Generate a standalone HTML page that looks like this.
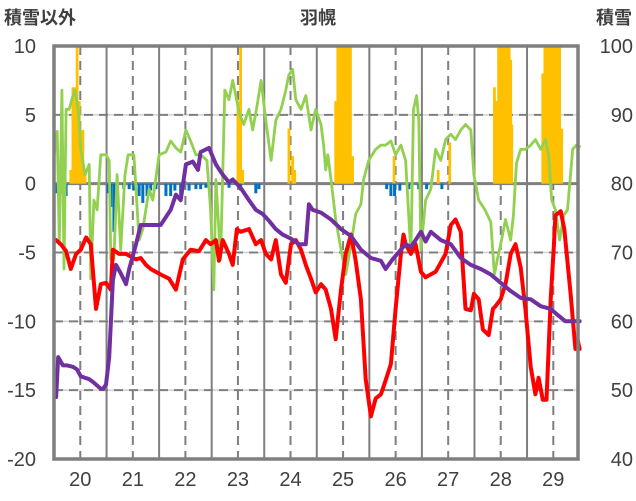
<!DOCTYPE html>
<html><head><meta charset="utf-8">
<style>
html,body{margin:0;padding:0;background:#fff;}
svg{display:block;font-family:"Liberation Sans","Noto Sans CJK JP",sans-serif;}
</style></head>
<body>
<svg id="chart" width="636" height="501" viewBox="0 0 636 501" xmlns="http://www.w3.org/2000/svg">
<text x="4" y="24" font-size="18" font-weight="bold" fill="#404040">積雪以外</text>
<text x="318" y="24" font-size="18" font-weight="bold" fill="#404040" text-anchor="middle">羽幌</text>
<text x="632" y="24" font-size="18" font-weight="bold" fill="#404040" text-anchor="end">積雪</text>
<g id="grid"></g>
<g id="bars"></g>
<g id="lines"></g>
<g id="axes"></g>
</svg>
<script>
const xTickLabels = [20,21,22,23,24,25,26,27,28,29];
const leftTickLabels = [10,5,0,-5,-10,-15,-20];
const rightTickLabels = [100,90,80,70,60,50,40];

const purpleDays = [19.54,19.58,19.67,19.75,19.86,19.94,20.01,20.17,20.24,20.39,20.43,20.49,20.55,20.62,20.68,20.77,20.87,20.93,21.06,21.15,21.53,21.72,21.82,21.91,22.01,22.14,22.24,22.29,22.45,22.58,22.71,22.83,22.90,23.05,23.21,23.34,23.47,23.59,23.72,23.85,24.01,24.16,24.29,24.35,24.42,24.58,24.77,24.96,25.15,25.34,25.53,25.72,25.81,25.94,26.10,26.19,26.29,26.38,26.48,26.57,26.67,26.86,27.05,27.24,27.43,27.62,27.81,28.00,28.19,28.38,28.57,28.76,28.95,29.04,29.23,29.50];
const purpleValues = [-15.5,-12.6,-13.2,-13.2,-13.3,-13.5,-14.0,-14.2,-14.4,-14.9,-14.9,-14.6,-12.6,-7.0,-5.9,-6.5,-7.3,-6.2,-4.4,-3.0,-3.0,-1.9,-0.8,-1.2,1.4,1.6,1.0,2.3,2.6,1.4,0.65,0.1,0.3,-0.3,-1.2,-1.9,-2.2,-2.7,-3.3,-3.7,-4.0,-4.4,-4.4,-1.5,-1.9,-2.1,-2.6,-3.3,-3.8,-4.8,-5.4,-5.6,-6.2,-5.5,-4.8,-4.4,-4.6,-4.1,-3.5,-4.2,-3.5,-4.1,-4.4,-5.4,-5.9,-6.2,-6.6,-7.2,-7.8,-8.3,-8.4,-8.9,-9.1,-9.4,-10.0,-10.0];

const redDays = [19.54,19.63,19.73,19.82,19.92,20.01,20.11,20.20,20.30,20.39,20.49,20.58,20.62,20.74,20.87,21.06,21.15,21.25,21.34,21.53,21.69,21.82,21.95,22.10,22.26,22.39,22.48,22.58,22.64,22.71,22.83,22.90,22.98,23.05,23.21,23.34,23.44,23.53,23.63,23.72,23.82,23.91,24.01,24.10,24.20,24.29,24.39,24.48,24.58,24.67,24.77,24.86,24.96,25.05,25.15,25.24,25.34,25.43,25.53,25.62,25.72,25.81,25.91,26.00,26.10,26.15,26.19,26.29,26.38,26.48,26.57,26.76,26.95,27.05,27.14,27.24,27.28,27.33,27.43,27.49,27.58,27.66,27.77,27.85,27.90,28.00,28.09,28.19,28.28,28.38,28.47,28.57,28.66,28.72,28.80,28.87,28.95,29.01,29.04,29.14,29.21,29.33,29.42,29.46,29.50];
const redValues = [-4.1,-4.4,-4.9,-6.2,-5.1,-4.8,-3.9,-4.4,-9.1,-7.3,-7.2,-7.7,-4.8,-5.1,-5.1,-5.5,-5.4,-5.9,-6.2,-6.6,-6.9,-7.7,-5.5,-4.8,-4.9,-4.1,-4.4,-4.1,-5.6,-4.1,-5.1,-5.9,-3.3,-3.5,-3.3,-4.4,-4.1,-5.1,-5.5,-4.1,-6.6,-7.2,-4.4,-4.1,-4.8,-5.9,-6.9,-7.9,-7.3,-7.7,-9.1,-11.3,-7.7,-5.1,-3.7,-5.6,-8.4,-14.2,-16.9,-15.6,-15.3,-14.3,-13.1,-9.1,-5.1,-3.7,-4.4,-5.1,-4.4,-6.4,-6.8,-6.4,-5.1,-3.0,-2.6,-3.5,-6.2,-9.1,-9.2,-8.0,-8.4,-10.6,-11.0,-9.1,-8.9,-8.4,-7.3,-5.1,-4.4,-6.1,-9.1,-13.3,-15.3,-14.1,-15.7,-15.7,-8.4,-4.6,-2.3,-2.0,-3.3,-8.0,-12.0,-11.3,-12.0];

const greenDays = [19.50,19.56,19.60,19.65,19.69,19.73,19.79,19.86,19.90,19.96,20.01,20.09,20.17,20.20,20.26,20.32,20.39,20.49,20.55,20.58,20.64,20.70,20.77,20.85,20.91,21.02,21.12,21.19,21.31,21.38,21.50,21.63,21.72,21.82,21.91,22.01,22.10,22.20,22.29,22.41,22.48,22.54,22.58,22.67,22.75,22.83,22.90,22.96,23.02,23.11,23.21,23.28,23.36,23.44,23.53,23.63,23.72,23.82,23.91,23.97,24.04,24.10,24.20,24.29,24.39,24.48,24.58,24.63,24.67,24.71,24.77,24.86,24.96,25.05,25.15,25.24,25.34,25.39,25.49,25.62,25.72,25.81,25.91,26.00,26.10,26.19,26.29,26.34,26.40,26.44,26.48,26.57,26.67,26.76,26.86,26.95,27.05,27.14,27.24,27.33,27.43,27.49,27.58,27.70,27.81,27.88,27.94,28.00,28.09,28.19,28.24,28.30,28.38,28.47,28.57,28.66,28.76,28.85,28.91,28.97,29.04,29.12,29.20,29.27,29.37,29.44,29.50];
const greenValues = [2.0,3.8,-4.4,6.8,-6.2,5.4,5.4,6.4,6.8,5.4,2.5,0.65,1.4,-6.9,-1.2,-1.9,2.1,2.1,1.7,-5.5,-5.5,0.65,-4.8,0.65,2.1,2.1,-4.1,-3.3,-0.4,-1.2,2.1,2.3,3.1,2.6,2.3,3.9,3.1,2.1,2.1,1.7,-1.9,-7.7,0.3,-5.5,6.8,6.1,7.5,6.4,5.2,4.3,5.4,3.9,5.6,7.5,4.6,1.7,4.6,5.4,6.8,7.9,8.3,6.1,5.4,6.4,3.9,5.4,4.3,2.8,1.0,2.1,0.3,-2.6,-4.8,-6.6,-4.4,-2.2,-1.5,0.3,1.7,2.5,2.8,2.8,3.1,2.1,2.8,1.7,-5.1,5.4,6.4,4.6,-4.8,-1.2,-0.4,2.5,1.7,3.2,3.6,3.2,3.9,4.3,3.9,0.65,-1.2,-1.9,-2.8,-6.6,-5.4,-4.4,-2.6,-4.1,-2.3,1.5,2.5,2.5,2.8,3.2,2.5,3.2,2.1,-1.2,-1.9,-4.1,-2.3,-1.9,2.5,2.8,2.7];

const snowfallDays = [19.82,19.86,19.90,19.94,19.98,20.01,20.05,20.09,23.00,23.05,23.09,23.97,24.04,24.08,24.86,24.90,24.94,24.98,25.02,25.06,25.10,25.14,25.18,25.97,26.81,27.03,27.88,27.92,27.96,28.00,28.04,28.08,28.12,28.16,28.19,28.21,28.80,28.84,28.88,28.92,28.96,29.00,29.04,29.08,29.12,29.16];
const snowfallValues = [1,7,7,10,6,3.9,3.9,1,6,10,1,4,2,1,6,10,10,10,10,10,10,10,2,2,1,3,7,6,10,10,10,10,10,10,9,4.3,8,10,10,10,10,10,10,10,10,4];

const meltDays = [19.54,19.63,19.73,20.53,20.58,20.64,20.70,20.83,20.93,21.02,21.12,21.19,21.27,21.34,21.44,21.63,21.72,21.80,21.91,22.07,22.20,22.29,22.39,22.58,22.83,23.05,23.34,23.40,25.83,25.91,25.98,26.08,26.25,26.44,26.59,26.88];
const meltValues = [-0.7,-0.7,-0.9,-0.7,-1.7,-3.5,-0.6,-0.4,-0.4,-0.5,-0.9,-1.4,-0.9,-0.5,-0.4,-0.9,-0.9,-0.5,-0.9,-0.5,-0.4,-0.4,-0.3,-0.3,-0.3,-0.5,-0.7,-0.4,-0.4,-0.9,-0.9,-0.5,-0.4,-0.4,-0.4,-0.4];

const NS = "http://www.w3.org/2000/svg";
const L = 54, R = 578, T = 46, B = 459;
const dMin = 19.5, dMax = 29.47;
function xScale(d){ return L + (d - dMin) / (dMax - dMin) * (R - L); }
function yScale(v){ return T + (10 - v) / 30 * (B - T); }
function mk(tag, attrs, parent){ const e = document.createElementNS(NS, tag); for (const k in attrs) e.setAttribute(k, attrs[k]); parent.appendChild(e); return e; }

const grid = document.getElementById('grid');
const bars = document.getElementById('bars');
const lines = document.getElementById('lines');
const axes = document.getElementById('axes');

leftTickLabels.forEach(v => {
  if (v === 10 || v === -20 || v === 0) return;
  const y = yScale(v);
  const l1 = mk('line', {x1:L, x2:R, y1:y, y2:y, stroke:'#d0d0d0', 'stroke-width':1.5}, grid);
  
  
  const l2 = mk('line', {x1:L, x2:R, y1:y, y2:y, stroke:'#7f7f7f', 'stroke-width':2, 'stroke-dasharray':'9,6'}, grid);
  
  
});
xTickLabels.forEach(d => {
  const x = xScale(d);
  const l = mk('line', {x1:x, x2:x, y1:T, y2:B, stroke:'#7f7f7f', 'stroke-width':2, 'stroke-dasharray':'9,6'}, grid);
  
  
  const xb = xScale(d + 0.5);
  if (xb < R - 2) {
    const s = mk('line', {x1:xb, x2:xb, y1:T, y2:B, stroke:'#7f7f7f', 'stroke-width':2}, grid);
    
    
  }
});

snowfallDays.forEach((d, i) => {
  const v = Math.min(snowfallValues[i], 10);
  const y0 = yScale(0), y1 = yScale(v);
  const r = mk('rect', {x:xScale(d) - 1.4, y:y1, width:2.8, height:y0 - y1, fill:'#ffc000'}, bars);
  
  
});
meltDays.forEach((d, i) => {
  const y0 = yScale(0), y1 = yScale(meltValues[i]);
  const r = mk('rect', {x:xScale(d) - 1.5, y:y0, width:3, height:y1 - y0, fill:'#0070c0'}, bars);
  
  
});

const z = mk('line', {x1:L, x2:R, y1:yScale(0), y2:yScale(0), stroke:'#7f7f7f', 'stroke-width':3}, grid);



function drawLine(days, vals, color, w, name){
  const pts = days.map((d, i) => xScale(d).toFixed(1) + ',' + yScale(vals[i]).toFixed(1)).join(' ');
  const p = mk('polyline', {points:pts, fill:'none', stroke:color, 'stroke-width':w, 'stroke-linejoin':'round', 'stroke-linecap':'round'}, lines);
  
  
}
drawLine(greenDays, greenValues, '#92d050', 2.8, 'green-series-line');
drawLine(redDays, redValues, '#ff0000', 4, 'red-series-line');
drawLine(purpleDays, purpleValues, '#7030a0', 4, 'purple-series-line');

const fr = mk('rect', {x:L, y:T, width:R - L, height:B - T, fill:'none', stroke:'#7f7f7f', 'stroke-width':3.5}, axes);



leftTickLabels.forEach(v => {
  const t = mk('text', {x:36, y:yScale(v) + 7, 'font-size':20, fill:'#404040', 'text-anchor':'end'}, axes);
  t.textContent = v;
  
  
});
rightTickLabels.forEach((v, i) => {
  const t = mk('text', {x:633, y:yScale(leftTickLabels[i]) + 7, 'font-size':20, fill:'#404040', 'text-anchor':'end'}, axes);
  t.textContent = v;
  
  
});
xTickLabels.forEach(d => {
  const t = mk('text', {x:xScale(d), y:486, 'font-size':20, fill:'#404040', 'text-anchor':'middle'}, axes);
  t.textContent = d;
  
  
});
</script>
</body></html>
